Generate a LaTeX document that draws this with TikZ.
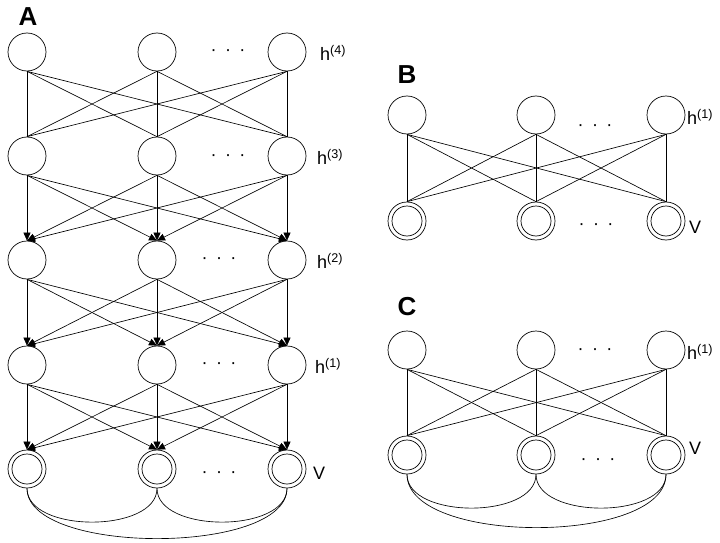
\documentclass[tikz,border=0pt]{standalone}
\usepackage{fontspec}
\setmainfont{Liberation Sans}
\usetikzlibrary{arrows.meta}

\tikzset{
  neurone/.style={circle, draw, line width=0.7pt, minimum size=38pt, inner sep=0pt},
  visible/.style={neurone, path picture={\draw[line width=0.7pt] (path picture bounding box.center) circle (15pt);}},
  lien/.style={line width=0.65pt},
  fleche/.style={lien, -{Triangle[length=8pt,width=7pt]}},
  lettre/.style={font=\fontsize{26}{28}\selectfont\bfseries},
  etiquette/.style={anchor=west, inner sep=1pt, font=\fontsize{18}{20}\selectfont},
  points/.style={font=\fontsize{18}{20}\selectfont}
}

\newcommand{\troispoints}{\textperiodcentered\hspace{8.5pt}\textperiodcentered\hspace{8.5pt}\textperiodcentered}

\begin{document}
\begin{tikzpicture}[x=1pt,y=-1pt]
\useasboundingbox (0,0) rectangle (720,543);

% Panneau A : couches cachees
\node[lettre] (lettreA) at (28,17) {A};
\foreach \r/\y in {1/52,2/156,3/260,4/365}
  \foreach \c/\x in {1/27,2/157,3/287}
    \node[neurone] (a-\r-\c) at (\x,\y) {};

% Panneau A : couche visible
\foreach \c/\x in {1/27,2/157,3/287}
  \node[visible] (a-5-\c) at (\x,469) {};

% Panneau A : liaisons
\foreach \i in {1,2,3}
  \foreach \j in {1,2,3} {
    \draw[lien] (a-1-\i.south) -- (a-2-\j.north);
    \draw[fleche] (a-2-\i.south) -- (a-3-\j.north);
    \draw[fleche] (a-3-\i.south) -- (a-4-\j.north);
    \draw[fleche] (a-4-\i.south) -- (a-5-\j.north);
  }

% Panneau A : liaisons laterales
\draw[lien] (a-5-1.south) .. controls +(0,45) and +(0,45) .. (a-5-2.south);
\draw[lien] (a-5-2.south) .. controls +(0,45) and +(0,45) .. (a-5-3.south);
\draw[lien] (a-5-1.south) .. controls +(0,67) and +(0,67) .. (a-5-3.south);

% Panneau A : etiquettes
\node[etiquette] (ha4) at (319,53) {h\textsuperscript{(4)}};
\node[etiquette] (ha3) at (316,157) {h\textsuperscript{(3)}};
\node[etiquette] (ha2) at (316,261) {h\textsuperscript{(2)}};
\node[etiquette] (ha1) at (314,366) {h\textsuperscript{(1)}};
\node[etiquette] (va) at (312,473) {V};
\node[points] (pa1) at (228,53) {\troispoints};
\node[points] (pa2) at (228,158) {\troispoints};
\node[points] (pa3) at (219,261) {\troispoints};
\node[points] (pa4) at (219,366) {\troispoints};
\node[points] (pa5) at (219,475) {\troispoints};

% Panneau B
\node[lettre] (lettreB) at (407,75) {B};
\foreach \c/\x in {1/407,2/536,3/666} {
  \node[neurone] (b-1-\c) at (\x,115) {};
  \node[visible] (b-2-\c) at (\x,221) {};
}
\foreach \i in {1,2,3}
  \foreach \j in {1,2,3}
    \draw[lien] (b-1-\i.south) -- (b-2-\j.north);
\node[etiquette] (hb1) at (686,117) {h\textsuperscript{(1)}};
\node[etiquette] (vb) at (688,227) {V};
\node[points] (pb1) at (595,128) {\troispoints};
\node[points] (pb2) at (596,227) {\troispoints};

% Panneau C
\node[lettre] (lettreC) at (407,307) {C};
\foreach \c/\x in {1/407,2/536,3/666} {
  \node[neurone] (c-1-\c) at (\x,350) {};
  \node[visible] (c-2-\c) at (\x,455) {};
}
\foreach \i in {1,2,3}
  \foreach \j in {1,2,3}
    \draw[lien] (c-1-\i.south) -- (c-2-\j.north);
\draw[lien] (c-2-1.south) .. controls +(0,45) and +(0,45) .. (c-2-2.south);
\draw[lien] (c-2-2.south) .. controls +(0,45) and +(0,45) .. (c-2-3.south);
\draw[lien] (c-2-1.south) .. controls +(0,71) and +(0,71) .. (c-2-3.south);
\node[etiquette] (hc1) at (686,352) {h\textsuperscript{(1)}};
\node[etiquette] (vc) at (688,448) {V};
\node[points] (pc1) at (595,352) {\troispoints};
\node[points] (pc2) at (598,462) {\troispoints};

\end{tikzpicture}
\end{document}
